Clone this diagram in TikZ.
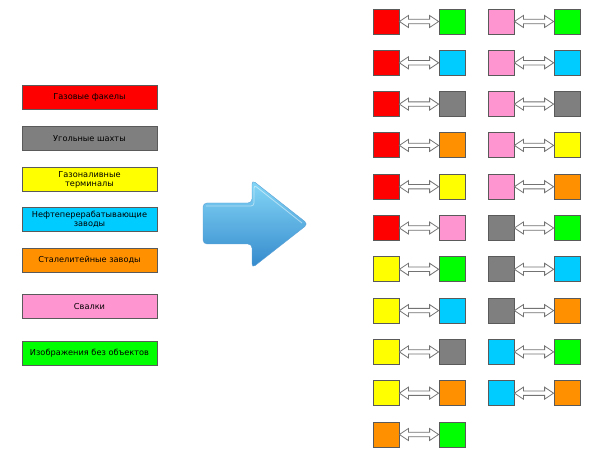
\documentclass[tikz,border=0pt]{standalone}
\usepackage{fontspec}
\setmainfont{DejaVu Sans}
\usetikzlibrary{calc}
\definecolor{cred}{HTML}{FF0000}
\definecolor{cgray}{HTML}{7F7F7F}
\definecolor{cyellow}{HTML}{FFFF00}
\definecolor{ccyan}{HTML}{00CCFF}
\definecolor{corange}{HTML}{FF9000}
\definecolor{cpink}{HTML}{FF95D0}
\definecolor{cgreen}{HTML}{00FF00}
\definecolor{edgegray}{HTML}{5A5A5A}
\definecolor{arrowtop}{HTML}{86D8F7}
\definecolor{arrowbot}{HTML}{3389CC}
\tikzset{
  legendbox/.style={draw=edgegray, line width=0.8pt, minimum width=135pt, minimum height=24pt,
    inner sep=1pt, align=center, font=\fontsize{8.2}{9}\selectfont},
  sq/.style={draw=edgegray, line width=0.8pt, minimum width=26pt, minimum height=25pt, inner sep=0pt},
  link/.style={draw=black!55, fill=white, line width=0.8pt, line join=miter},
}
\begin{document}
\begin{tikzpicture}[x=1pt,y=-1pt]
\useasboundingbox (0,0) rectangle (590,449);
\fill[white] (0,0) rectangle (590,449);

% legend of categories
\node[legendbox, fill=cred]    (l1) at (89.5,97.5)  {Газовые факелы};
\node[legendbox, fill=cgray]   (l2) at (89.5,138.5) {Угольные шахты};
\node[legendbox, fill=cyellow] (l3) at (89.5,179.5) {Газоналивные\\терминалы};
\node[legendbox, fill=ccyan]   (l4) at (89.5,219.5) {Нефтеперерабатывающие\\заводы};
\node[legendbox, fill=corange] (l5) at (89.5,260)   {Сталелитейные заводы};
\node[legendbox, fill=cpink]   (l6) at (89.5,306.5) {Свалки};
\node[legendbox, fill=cgreen]  (l7) at (89.5,353.5) {Изображения без объектов};

% big glossy arrow
\shade[top color=arrowtop, bottom color=arrowbot, draw=arrowbot!80, line width=0.4pt, rounded corners=4pt]
  (203,203) -- (252,203) -- (252,180) -- (308,224) -- (252,268) -- (252,244) -- (203,244) -- cycle;
\draw[white, opacity=0.5, line width=0.8pt, rounded corners=3pt]
  (206,206) -- (254,206) -- (254,185) -- (302,223);

% pairs, first column
\foreach \i/\a/\b in {1/cred/cgreen, 2/cred/ccyan, 3/cred/cgray, 4/cred/corange, 5/cred/cyellow,
  6/cred/cpink, 7/cyellow/cgreen, 8/cyellow/ccyan, 9/cyellow/cgray, 10/cyellow/corange, 11/corange/cgreen}{
  \node[sq, fill=\a] (p\i a) at (386,{21.5+(\i-1)*41.3}) {};
  \node[sq, fill=\b] (p\i b) at (452,{21.5+(\i-1)*41.3}) {};
  \draw[link] (p\i a.east) -- ($(p\i a.east)+(9,-6)$) -- ($(p\i a.east)+(9,-2.2)$) -- ($(p\i b.west)+(-9,-2.2)$)
    -- ($(p\i b.west)+(-9,-6)$) -- (p\i b.west) -- ($(p\i b.west)+(-9,6)$) -- ($(p\i b.west)+(-9,2.2)$)
    -- ($(p\i a.east)+(9,2.2)$) -- ($(p\i a.east)+(9,6)$) -- cycle;
}
% pairs, second column
\foreach \i/\a/\b in {1/cpink/cgreen, 2/cpink/ccyan, 3/cpink/cgray, 4/cpink/cyellow, 5/cpink/corange,
  6/cgray/cgreen, 7/cgray/ccyan, 8/cgray/corange, 9/ccyan/cgreen, 10/ccyan/corange}{
  \node[sq, fill=\a] (q\i a) at (501,{21.5+(\i-1)*41.3}) {};
  \node[sq, fill=\b] (q\i b) at (567,{21.5+(\i-1)*41.3}) {};
  \draw[link] (q\i a.east) -- ($(q\i a.east)+(9,-6)$) -- ($(q\i a.east)+(9,-2.2)$) -- ($(q\i b.west)+(-9,-2.2)$)
    -- ($(q\i b.west)+(-9,-6)$) -- (q\i b.west) -- ($(q\i b.west)+(-9,6)$) -- ($(q\i b.west)+(-9,2.2)$)
    -- ($(q\i a.east)+(9,2.2)$) -- ($(q\i a.east)+(9,6)$) -- cycle;
}
\end{tikzpicture}
\end{document}
